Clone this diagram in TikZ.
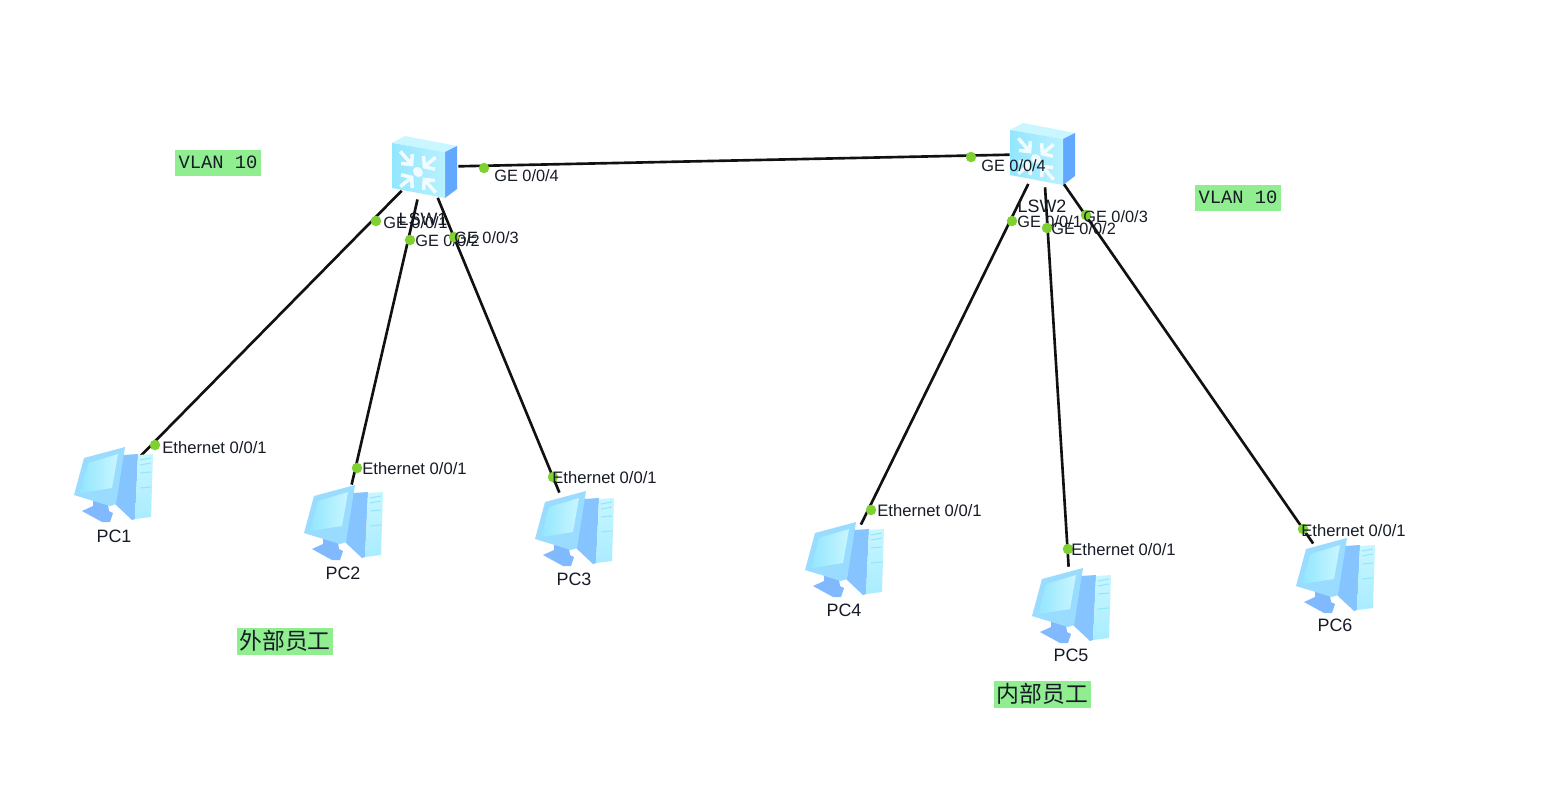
\documentclass[tikz,border=0pt]{standalone}
\usepackage{fontspec}
\usepackage{xcolor}
\setmainfont{Liberation Sans}
\setmonofont{Liberation Mono}
\newfontfamily\cjk{Noto Sans CJK SC}
\definecolor{LinkBlack}{HTML}{111111}
\definecolor{PortGreen}{HTML}{7FD132}
\definecolor{NoteGreen}{HTML}{90EE90}
\definecolor{LabelDark}{HTML}{161B26}
\definecolor{IconPale}{HTML}{C9F6FF}
\definecolor{IconCyan}{HTML}{92E6FF}
\definecolor{IconBlue}{HTML}{62A8FF}
\definecolor{IconMid}{HTML}{86C4FF}
\definecolor{IconFrame}{HTML}{9ADCFF}
\begin{document}
\begin{tikzpicture}[x=.02cm,y=-.02cm,font=\fontsize{9.3pt}{11pt}\selectfont,every node/.style={text=LabelDark},
link/.style={draw=LinkBlack,line width=1.5pt},
portdot/.style={circle,fill=PortGreen,minimum size=.21cm,inner sep=0pt},
portlab/.style={anchor=west,inner sep=0pt},
ethlab/.style={portlab,font=\fontsize{9.45pt}{11pt}\selectfont},
devlab/.style={inner sep=0pt,font=\fontsize{10.2pt}{12pt}\selectfont},
swnode/.style={circle,minimum size=1.32cm,inner sep=0pt},
pcnode/.style={circle,minimum size=1.52cm,inner sep=0pt},
vlannote/.style={fill=NoteGreen,minimum width=1.72cm,minimum height=.52cm,inner sep=0pt,font=\ttfamily\fontsize{10.7pt}{12pt}\selectfont},
groupnote/.style={fill=NoteGreen,minimum width=1.93cm,minimum height=.54cm,inner sep=0pt,font=\cjk\fontsize{13pt}{14pt}\selectfont},
swicon/.pic={\fill[IconPale] (-33,-24)--(-20,-31)--(32,-21)--(20,-15)--cycle;\fill[IconBlue] (20,-15)--(32,-21)--(32,22)--(20,31)--cycle;\shade[left color=IconCyan,right color=IconPale!70!IconCyan] (-33,-24)--(20,-15)--(20,31)--(-33,21)--cycle;\begin{scope}[shift={(-7,5)},yslant=-.17]\foreach \a in {45,135,225,315}{\draw[white!88!IconCyan,line width=2pt,rotate=\a] (25,0)--(10,0) (16,-8)--(9,0)--(16,8);}\fill[white!88!IconCyan] (0,0) circle (5);\end{scope}},
pcicon/.pic={\fill[IconMid] (10,-29)--(25,-30)--(22,35)--(19,36)--(2,20)--cycle;\shade[top color=IconPale,bottom color=IconCyan!60!IconPale] (25,-29)--(40,-30)--(38,33)--(22,35)--cycle;\foreach \h/\k in {-24/-26,-19/-21,-11/-12,4/3}{\draw[IconCyan,line width=.6pt] (27,\h)--(38,\k);}\fill[IconBlue!80!white] (-31,27)--(-20,22)--(-20,15)--(-5,20)--(-4,27)--(0,29)--(-3,38)--(-11,38)--cycle;\fill[IconFrame] (-39,11)--(-29,-26)--(12,-37)--(3,20)--(-3,22)--cycle;\shade[left color=IconCyan,right color=IconPale] (-33,9)--(-25,-21)--(5,-30)--(-1,4)--cycle;}]
\fill[white] (0,0) rectangle (1543,799);
\node[swnode] (lsw1) at (425,167) {};
\node[swnode] (lsw2) at (1043,154) {};
\foreach \n/\x/\y in {1/113/484,2/343/522,3/574/528,4/844/559,5/1071/605,6/1335/575}{\node[pcnode] (pc\n) at (\x,\y) {};}
\foreach \a/\b in {lsw1/lsw2,lsw1/pc1,lsw1/pc2,lsw1/pc3,lsw2/pc4,lsw2/pc5,lsw2/pc6}{\draw[link] (\a)--(\b);}
\pic at (lsw1) {swicon};
\pic at (lsw2) {swicon};
\foreach \n in {1,...,6}{\pic at (pc\n) {pcicon};}
\node[devlab] (namesw1) at (423,219) {LSW1};
\node[devlab] (namesw2) at (1042,206) {LSW2};
\foreach \n/\x/\y in {1/114/536,2/343/573,3/574/579,4/844/610,5/1071/655,6/1335/625}{\node[devlab] (namepc\n) at (\x,\y) {PC\n};}
\foreach \n/\x/\y/\tx/\ty/\port in {a1/376/221/383/223/1,a2/410/240/415/241/2,a3/454/237/454/238/3,a4/484/168/494/176/4,b4/971/157/981/166/4,b1/1012/221/1017/222/1,b2/1047/228/1051/229/2,b3/1086/215/1083/217/3}{\node[portdot] (dot\n) at (\x,\y) {};\node[portlab] (lab\n) at (\tx,\ty) {GE 0/0/\port};}
\foreach \n/\x/\y/\tx/\ty in {1/155/445/162/448,2/357/468/362/469,3/553/477/552/478,4/871/510/877/511,5/1068/549/1071/550,6/1303/529/1301/531}{\node[portdot] (dotpc\n) at (\x,\y) {};\node[ethlab] (labpc\n) at (\tx,\ty) {Ethernet 0/0/1};}
\node[vlannote] (vlan1) at (218,163) {\raisebox{.05cm}{VLAN 10}};
\node[vlannote] (vlan2) at (1238,198) {\raisebox{.05cm}{VLAN 10}};
\node[groupnote] (group1) at (285,641.5) {\raisebox{.07cm}{外部员工}};
\node[groupnote] (group2) at (1042.5,694.5) {\raisebox{.07cm}{内部员工}};
\end{tikzpicture}
\end{document}
